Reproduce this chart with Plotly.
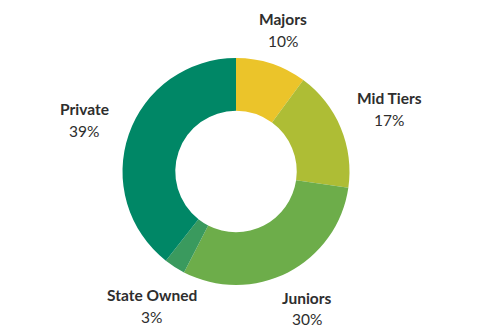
import plotly.graph_objects as go

categories = ["Majors", "Mid Tiers", "Juniors", "State Owned", "Private"]
values = [10, 17, 30, 3, 39]
colors = ["#EBC42A", "#AEBD35", "#6DAD4A", "#3A9A5E", "#008766"]

# label anchor positions in pixels (x center, y of name line, y of percent line)
label_px = {
    "Majors": (283, 19.5, 41),
    "Mid Tiers": (389, 98, 120),
    "Juniors": (307, 298, 319),
    "State Owned": (151.5, 294.5, 317),
    "Private": (84, 109, 131),
}

W, H = 479, 333
fig = go.Figure(go.Pie(
    labels=categories,
    values=values,
    marker=dict(colors=colors, line=dict(width=0)),
    hole=0.535,
    sort=False,
    direction="clockwise",
    rotation=0,
    textinfo="none",
    showlegend=False,
    domain=dict(x=[122 / W, 350 / W], y=[1 - 285 / H, 1 - 58 / H]),
))

annotations = []
for cat, val in zip(categories, values):
    x, y1, y2 = label_px[cat]
    annotations.append(dict(
        x=x / W, y=1 - y1 / H, xref="paper", yref="paper",
        text=f"<b>{cat}</b>", showarrow=False,
        font=dict(family="Lato", size=15.5, color="#2e2e2e"),
        xanchor="center", yanchor="middle",
    ))
    annotations.append(dict(
        x=x / W, y=1 - y2 / H, xref="paper", yref="paper",
        text=f"{val}%", showarrow=False,
        font=dict(family="Lato", size=15.5, color="#2e2e2e"),
        xanchor="center", yanchor="middle",
    ))

fig.update_layout(
    width=W, height=H,
    margin=dict(l=0, r=0, t=0, b=0),
    paper_bgcolor="white", plot_bgcolor="white",
    annotations=annotations,
)
fig.write_html("out.html")
